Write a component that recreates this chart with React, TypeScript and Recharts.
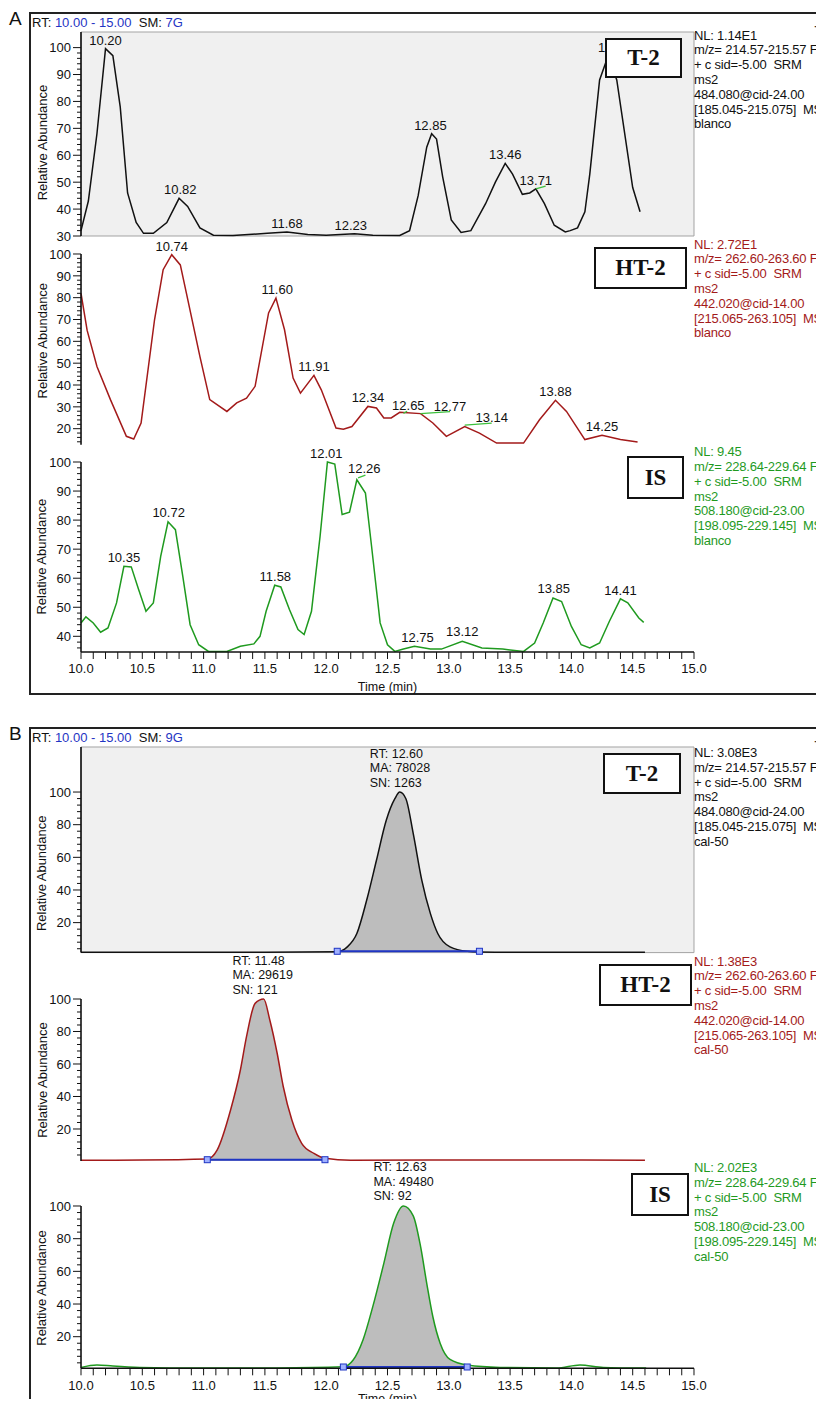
import React from "react";
import {
  ComposedChart,
  Line,
  Area,
  XAxis,
  YAxis,
  ReferenceArea,
  ReferenceDot,
  ReferenceLine,
} from "recharts";

const FONT = '"Liberation Sans", Arial, Helvetica, sans-serif';
const SERIF = '"Liberation Serif", "Times New Roman", serif';

const BLACK = "#111111";
const RED = "#a31a1a";
const GREEN = "#1f9a1f";
const BLUE = "#1f35c4";
const MARK = "#3cc03c";

type Pair = [number, number];
type Tag = [number, number, string];
type Seg = [number, number, number, number];

// time axis (min)
const TIME_LABELS = ["10.0", "10.5", "11.0", "11.5", "12.0", "12.5", "13.0", "13.5", "14.0", "14.5", "15.0"];

// ---- A: blanco ----
const T2_BLANK: Pair[] = [
  [10.0, 32], [10.06, 43], [10.13, 68], [10.2, 99.6], [10.26, 97], [10.32, 78], [10.38, 46],
  [10.45, 35], [10.51, 31], [10.59, 31], [10.7, 35], [10.8, 44], [10.87, 41], [10.97, 33],
  [11.08, 30.3], [11.24, 30.2], [11.52, 31], [11.68, 31.5], [11.85, 30.6], [12.0, 30.3],
  [12.23, 30.8], [12.38, 30.3], [12.6, 30.2], [12.68, 32], [12.75, 45], [12.82, 63], [12.86, 68],
  [12.9, 66], [12.95, 52], [13.02, 36], [13.1, 31.3], [13.18, 32], [13.3, 42], [13.38, 50],
  [13.46, 57], [13.52, 53], [13.6, 45.5], [13.66, 46], [13.71, 47.5], [13.78, 42], [13.86, 34],
  [13.95, 31.5], [13.99, 32], [14.05, 33], [14.11, 39], [14.15, 53], [14.23, 88], [14.3, 97],
  [14.37, 88], [14.5, 48], [14.56, 39],
];
const T2_BLANK_TAGS: Tag[] = [
  [10.2, 99.6, "10.20"], [10.81, 44, "10.82"], [11.68, 31.5, "11.68"], [12.2, 30.8, "12.23"],
  [12.85, 68, "12.85"], [13.46, 57, "13.46"], [13.71, 47.5, "13.71"], [14.35, 97, "14.30"],
];
const T2_BLANK_MARKS: Seg[] = [[13.71, 47.5, 13.79, 48.5]];

const HT2_BLANK: Pair[] = [
  [10.0, 82], [10.05, 65], [10.13, 48.5], [10.24, 33.3], [10.37, 16.5], [10.43, 15.3], [10.49, 22.6],
  [10.6, 70], [10.67, 92.8], [10.74, 99.7], [10.81, 95], [10.86, 82], [10.97, 53], [11.05, 33.3],
  [11.19, 27.9], [11.27, 31.8], [11.35, 34], [11.42, 39.4], [11.53, 73], [11.59, 79.8],
  [11.66, 65.3], [11.73, 43.2], [11.79, 36.3], [11.9, 44.4], [11.96, 37.8], [12.08, 20.3],
  [12.14, 19.8], [12.21, 21], [12.34, 30.2], [12.41, 29.5], [12.47, 24.9], [12.53, 24.9],
  [12.6, 27.5], [12.77, 26.9], [12.87, 22.6], [12.98, 16.5], [13.13, 21], [13.25, 18],
  [13.39, 13.4], [13.61, 13.4], [13.74, 24.1], [13.87, 33], [13.96, 27.9], [14.11, 15],
  [14.25, 17], [14.4, 15], [14.54, 13.9],
];
const HT2_BLANK_TAGS: Tag[] = [
  [10.74, 99.7, "10.74"], [11.6, 80, "11.60"], [11.9, 44.4, "11.91"], [12.34, 30.2, "12.34"],
  [12.67, 26.5, "12.65"], [13.01, 26.2, "12.77"], [13.35, 21.1, "13.14"], [13.87, 33, "13.88"],
  [14.25, 17, "14.25"],
];
const HT2_BLANK_MARKS: Seg[] = [
  [12.63, 27, 12.66, 28], [12.77, 26.9, 13.01, 27.8], [13.13, 21.6, 13.35, 22.5],
];

const IS_BLANK: Pair[] = [
  [10.0, 44.6], [10.04, 46.7], [10.1, 44.6], [10.16, 41.4], [10.22, 42.9], [10.29, 51.5],
  [10.35, 64.1], [10.41, 63.9], [10.47, 56.1], [10.53, 48.6], [10.59, 51.5], [10.65, 67.5],
  [10.71, 79.4], [10.77, 76.7], [10.83, 60.7], [10.89, 44], [10.96, 37.1], [11.04, 34.8],
  [11.19, 34.8], [11.3, 36.6], [11.41, 37.4], [11.46, 40], [11.51, 48.6], [11.58, 57.6],
  [11.63, 57], [11.7, 49.2], [11.77, 42.3], [11.82, 40.6], [11.88, 48.6], [11.95, 74.4],
  [12.01, 100], [12.07, 99.3], [12.13, 81.9], [12.19, 82.7], [12.25, 93.9], [12.32, 89.3],
  [12.37, 71], [12.44, 44.6], [12.5, 37.1], [12.56, 34.8], [12.63, 35.6], [12.72, 36.6],
  [12.85, 35.6], [12.94, 35.6], [13.11, 38.3], [13.27, 36], [13.44, 35.6], [13.61, 34.8],
  [13.7, 37.7], [13.77, 44.6], [13.85, 53.2], [13.92, 52], [14.0, 43.4], [14.08, 37.1],
  [14.15, 36], [14.23, 37.7], [14.31, 45.2], [14.4, 52.9], [14.46, 51.5], [14.55, 46.3],
  [14.59, 44.8],
];
const IS_BLANK_TAGS: Tag[] = [
  [10.35, 64.1, "10.35"], [10.715, 79.6, "10.72"], [11.585, 57.8, "11.58"], [12.0, 100, "12.01"],
  [12.31, 94.7, "12.26"], [12.745, 36.6, "12.75"], [13.11, 38.6, "13.12"], [13.856, 53.4, "13.85"],
  [14.4, 53, "14.41"],
];
const IS_BLANK_MARKS: Seg[] = [[12.26, 94.5, 12.32, 95.5]];

// ---- B: cal-50 ----
const T2_CAL: Pair[] = [
  [10.0, 1.8], [11.5, 1.8], [12.09, 2.2], [12.17, 5], [12.25, 13.3], [12.33, 33.7], [12.41, 58.2],
  [12.49, 82.7], [12.56, 95.9], [12.6, 100], [12.65, 95.9], [12.71, 74.5], [12.78, 45.9],
  [12.85, 25.5], [12.91, 13.3], [13.01, 5.1], [13.15, 2.4], [13.25, 2], [13.5, 1.8], [14.6, 1.8],
];
const T2_CAL_PEAK = { t: 12.6, v: 100, lines: ["RT: 12.60", "MA: 78028", "SN: 1263"] };
const T2_CAL_RANGE: Pair = [12.09, 13.25];

const HT2_CAL: Pair[] = [
  [10.0, 0.8], [10.5, 0.9], [11.03, 1.5], [11.11, 7], [11.22, 31.7], [11.3, 56.3], [11.35, 76.8],
  [11.42, 97.3], [11.49, 100], [11.54, 87.1], [11.6, 66.6], [11.65, 46], [11.72, 25.5],
  [11.8, 11.2], [11.9, 5], [11.99, 2], [12.2, 0.8], [13.5, 0.9], [14.6, 0.8],
];
const HT2_CAL_PEAK = { t: 11.48, v: 100, lines: ["RT: 11.48", "MA: 29619", "SN: 121"] };
const HT2_CAL_RANGE: Pair = [11.03, 11.99];

const IS_CAL: Pair[] = [
  [10.0, 1.2], [10.13, 2.7], [10.26, 2], [10.48, 1.2], [10.97, 0.8], [11.6, 0.9], [12.14, 1.6],
  [12.22, 5.7], [12.3, 18], [12.38, 38.4], [12.47, 64.9], [12.55, 89.4], [12.63, 100], [12.71, 94],
  [12.77, 75.1], [12.82, 52.7], [12.87, 32.2], [12.93, 15.9], [13.01, 6.1], [13.15, 2.7],
  [13.42, 1.2], [13.88, 0.8], [14.07, 2.7], [14.26, 1.2], [14.61, 0.8],
];
const IS_CAL_PEAK = { t: 12.63, v: 100, lines: ["RT: 12.63", "MA: 49480", "SN: 92"] };
const IS_CAL_RANGE: Pair = [12.14, 13.15];

// scan filter text at the right
const T2_INFO = ["m/z= 214.57-215.57 F:", "+ c sid=-5.00  SRM", "ms2", "484.080@cid-24.00", "[185.045-215.075]  MS"];
const HT2_INFO = ["m/z= 262.60-263.60 F:", "+ c sid=-5.00  SRM", "ms2", "442.020@cid-14.00", "[215.065-263.105]  MS"];
const IS_INFO = ["m/z= 228.64-229.64 F:", "+ c sid=-5.00  SRM", "ms2", "508.180@cid-23.00", "[198.095-229.145]  MS"];

const range = (a: number, b: number, s: number) => {
  const out: number[] = [];
  for (let v = a; v <= b + 1e-9; v += s) out.push(Math.round(v * 10) / 10);
  return out;
};
const TIME_TICKS = range(10, 15, 0.1);
const toPts = (arr: Pair[]) => arr.map(([t, v]) => ({ t, v }));

const PLOT_LEFT = 81;

interface PanelProps {
  top: number;
  bottom: number;
  yMin: number;
  yMax: number;
  ticks: number[];
  majors: number[];
  titleY: number;
  data: Pair[];
  color: string;
  smooth?: boolean;
  boxed?: boolean;
  timeAxis?: boolean;
  timeOffset?: number;
  mt?: number;
  tags?: Tag[];
  marks?: Seg[];
  peak?: { t: number; v: number; lines: string[] };
  peakRange?: Pair;
}

function Panel(p: PanelProps) {
  const mt = p.mt ?? 22;
  const xh = p.timeAxis ? 48 : 0;
  const mb = p.timeAxis ? 0 : 10;
  const height = mt + (p.bottom - p.top) + xh + mb;
  const svgTop = p.top - mt;
  const data = toPts(p.data);
  const fillData = p.peakRange
    ? data.filter((d) => d.t >= p.peakRange![0] && d.t <= p.peakRange![1])
    : [];
  const base = p.yMin + 0.8;
  const curve = p.smooth ? "monotone" : "linear";

  const yTick = (tp: any) => {
    const v = tp.payload.value;
    const major = p.majors.includes(v);
    return (
      <g>
        <line x1={PLOT_LEFT - (major ? 8 : 4)} x2={PLOT_LEFT} y1={tp.y} y2={tp.y} stroke={BLACK} strokeWidth={1} />
        {major && (
          <text x={PLOT_LEFT - 10} y={tp.y} dy="0.36em" textAnchor="end" fontSize={13} fill={BLACK} fontFamily={FONT}>
            {v}
          </text>
        )}
      </g>
    );
  };

  const yTitle = () => {
    const cy = p.titleY - svgTop;
    return (
      <text
        x={42}
        y={cy}
        transform={`rotate(-90 42 ${cy})`}
        textAnchor="middle"
        dominantBaseline="central"
        fontSize={13}
        fill={BLACK}
        fontFamily={FONT}
      >
        Relative Abundance
      </text>
    );
  };

  const infoLabel = (lp: any) => {
    const vb = lp.viewBox || {};
    const x = vb.x - 30;
    const offs = [-34.5, -20, -5.5];
    return (
      <g>
        {p.peak!.lines.map((s, i) => (
          <text key={s} x={x} y={vb.y + offs[i]} fontSize={12.5} fill={BLACK} fontFamily={FONT}>
            {s}
          </text>
        ))}
      </g>
    );
  };

  return (
    <div style={{ position: "absolute", left: 0, top: svgTop }}>
      <ComposedChart width={730} height={height} margin={{ top: mt, right: 36, left: 31, bottom: mb }}>
        {p.boxed && (
          <ReferenceArea
            yAxisId="y"
            x1={10}
            x2={15}
            y1={p.yMin}
            y2={p.yMax}
            fill="#f0f0f0"
            fillOpacity={1}
            stroke="#a3a3a3"
            strokeWidth={1}
          />
        )}
        <XAxis
          dataKey="t"
          type="number"
          domain={[10, 15]}
          ticks={TIME_TICKS}
          interval={0}
          height={xh}
          tick={p.timeAxis ? { fontSize: 13, fill: BLACK, fontFamily: FONT } : false}
          tickLine={p.timeAxis ? { stroke: BLACK } : false}
          tickSize={7}
          tickMargin={5}
          tickFormatter={(v: number) => {
            const s = v.toFixed(1);
            return TIME_LABELS.includes(s) ? s : "";
          }}
          axisLine={{ stroke: BLACK, strokeWidth: 1.6 }}
          label={
            p.timeAxis
              ? { value: "Time (min)", position: "insideBottom", offset: p.timeOffset ?? 1, fontSize: 12.5, fill: BLACK, fontFamily: FONT }
              : undefined
          }
        />
        <YAxis
          yAxisId="y"
          type="number"
          domain={[p.yMin, p.yMax]}
          ticks={p.ticks}
          interval={0}
          width={50}
          tickSize={8}
          tickMargin={2}
          tick={yTick}
          tickLine={false}
          axisLine={{ stroke: BLACK, strokeWidth: 1.6 }}
          label={{ content: yTitle }}
        />
        {fillData.length > 0 && (
          <Area
            yAxisId="y"
            data={fillData}
            dataKey="v"
            type={curve}
            baseValue={p.yMin}
            fill="#bdbdbd"
            fillOpacity={1}
            stroke="none"
            isAnimationActive={false}
          />
        )}
        <Line
          yAxisId="y"
          data={data}
          dataKey="v"
          type={curve}
          stroke={p.color}
          strokeWidth={1.5}
          dot={false}
          isAnimationActive={false}
        />
        {p.peakRange && (
          <Line
            yAxisId="y"
            data={[{ t: p.peakRange[0], v: base }, { t: p.peakRange[1], v: base }]}
            dataKey="v"
            stroke={BLUE}
            strokeWidth={2}
            isAnimationActive={false}
            dot={(dp: any) => (
              <rect key={dp.index} x={dp.cx - 3} y={dp.cy - 3} width={6} height={6} fill="#9fb0ff" stroke={BLUE} strokeWidth={1} />
            )}
          />
        )}
        {(p.marks || []).map(([x1, y1, x2, y2], i) => (
          <ReferenceLine
            key={`m${i}`}
            yAxisId="y"
            segment={[{ x: x1, y: y1 }, { x: x2, y: y2 }]}
            stroke={MARK}
            strokeWidth={1.3}
          />
        ))}
        {(p.tags || []).map(([t, v, s]) => (
          <ReferenceDot
            key={s}
            yAxisId="y"
            x={t}
            y={v}
            r={0}
            stroke="none"
            label={{ value: s, position: "top", offset: 4, fontSize: 13, fill: BLACK, fontFamily: FONT }}
          />
        ))}
        {p.peak && (
          <ReferenceDot yAxisId="y" x={p.peak.t} y={p.peak.v} r={0} stroke="none" label={{ content: infoLabel }} />
        )}
      </ComposedChart>
    </div>
  );
}

function Info({ top, color, nl, lines, tail }: { top: number; color: string; nl: string; lines: string[]; tail: string }) {
  return (
    <div
      style={{
        position: "absolute",
        left: 694,
        top,
        color,
        fontSize: 13,
        lineHeight: "14.8px",
        whiteSpace: "pre",
        fontFamily: FONT,
        letterSpacing: -0.2,
      }}
    >
      {[nl, ...lines, tail].map((s, i) => (
        <div key={i}>{s}</div>
      ))}
    </div>
  );
}

function NameBox({ left, top, w, h, text }: { left: number; top: number; w: number; h: number; text: string }) {
  return (
    <div
      style={{
        position: "absolute",
        left,
        top,
        width: w,
        height: h,
        boxSizing: "border-box",
        border: "2px solid #111",
        background: "#fff",
        display: "flex",
        alignItems: "center",
        justifyContent: "center",
        fontFamily: SERIF,
        fontWeight: "bold",
        fontSize: 23,
        color: "#111",
      }}
    >
      {text}
    </div>
  );
}

function Header({ top, letter, sm }: { top: number; letter: string; sm: string }) {
  return (
    <>
      <div style={{ position: "absolute", left: 9, top: top - 4, fontSize: 19, fontFamily: FONT, color: "#111", lineHeight: "22px" }}>
        {letter}
      </div>
      <div style={{ position: "absolute", left: 32, top: top + 3, fontSize: 13, fontFamily: FONT, lineHeight: "15px", whiteSpace: "pre", color: "#111" }}>
        RT: <span style={{ color: BLUE }}>10.00 - 15.00</span>  SM: <span style={{ color: BLUE }}>{sm}</span>
      </div>
      <div style={{ position: "absolute", left: 814, top: top + 6, fontSize: 15, fontFamily: FONT, color: "#333", lineHeight: "16px", zIndex: 5 }}>
        +
      </div>
    </>
  );
}

const A_TICKS1 = range(30, 100, 2);
const A_TICKS2 = range(14, 100, 2);
const A_TICKS3 = range(36, 100, 2);
const B_TICKS = range(4, 100, 4);

export default function App() {
  return (
    <div
      style={{
        position: "relative",
        width: 824,
        height: 1407,
        margin: -8,
        overflow: "hidden",
        background: "#fff",
        fontFamily: FONT,
      }}
    >
      {/* frames */}
      <div style={{ position: "absolute", left: 29, top: 12, width: 1000, height: 683, border: "2px solid #222", boxSizing: "border-box" }} />
      <div style={{ position: "absolute", left: 29, top: 727, width: 1000, height: 800, border: "2px solid #222", boxSizing: "border-box" }} />
      <Header top={12} letter="A" sm="7G" />
      <Header top={727} letter="B" sm="9G" />

      {/* A: blanco */}
      <Panel top={31.5} bottom={235.5} yMin={30} yMax={105.8} ticks={A_TICKS1} majors={[30, 40, 50, 60, 70, 80, 90, 100]}
        titleY={142} data={T2_BLANK} color={BLACK} boxed tags={T2_BLANK_TAGS} marks={T2_BLANK_MARKS} />
      <Panel top={254.3} bottom={445} yMin={12.67} yMax={100} ticks={A_TICKS2} majors={[20, 30, 40, 50, 60, 70, 80, 90, 100]}
        titleY={341} data={HT2_BLANK} color={RED} tags={HT2_BLANK_TAGS} marks={HT2_BLANK_MARKS} />
      <Panel top={462.3} bottom={652.3} yMin={34.6} yMax={100} ticks={A_TICKS3} majors={[40, 50, 60, 70, 80, 90, 100]}
        titleY={557} data={IS_BLANK} color={GREEN} tags={IS_BLANK_TAGS} marks={IS_BLANK_MARKS} timeAxis timeOffset={9} />

      {/* B: cal-50 */}
      <Panel top={746.7} bottom={952.3} yMin={1.63} yMax={127.6} ticks={B_TICKS} majors={[20, 40, 60, 80, 100]}
        titleY={873} data={T2_CAL} color={BLACK} smooth boxed peak={T2_CAL_PEAK} peakRange={T2_CAL_RANGE} />
      <Panel top={999} bottom={1161} yMin={0.3} yMax={100} ticks={B_TICKS} majors={[20, 40, 60, 80, 100]} mt={55}
        titleY={1080} data={HT2_CAL} color={RED} smooth peak={HT2_CAL_PEAK} peakRange={HT2_CAL_RANGE} />
      <Panel top={1206} bottom={1368.3} yMin={0.66} yMax={100} ticks={B_TICKS} majors={[20, 40, 60, 80, 100]} mt={55}
        titleY={1288} data={IS_CAL} color={GREEN} smooth peak={IS_CAL_PEAK} peakRange={IS_CAL_RANGE} timeAxis timeOffset={13} />

      {/* compound boxes */}
      <NameBox left={605} top={38} w={77} h={40} text="T-2" />
      <NameBox left={594} top={247} w={93} h={42} text="HT-2" />
      <NameBox left={627} top={456} w={57} h={43} text="IS" />
      <NameBox left={603} top={753} w={78} h={41} text="T-2" />
      <NameBox left={599} top={964} w={93} h={42} text="HT-2" />
      <NameBox left={631} top={1173} w={58} h={43} text="IS" />

      {/* scan info */}
      <Info top={28.6} color={BLACK} nl="NL: 1.14E1" lines={T2_INFO} tail="blanco" />
      <Info top={237.6} color={RED} nl="NL: 2.72E1" lines={HT2_INFO} tail="blanco" />
      <Info top={445.3} color={GREEN} nl="NL: 9.45" lines={IS_INFO} tail="blanco" />
      <Info top={746} color={BLACK} nl="NL: 3.08E3" lines={T2_INFO} tail="cal-50" />
      <Info top={954.6} color={RED} nl="NL: 1.38E3" lines={HT2_INFO} tail="cal-50" />
      <Info top={1161} color={GREEN} nl="NL: 2.02E3" lines={IS_INFO} tail="cal-50" />
    </div>
  );
}
